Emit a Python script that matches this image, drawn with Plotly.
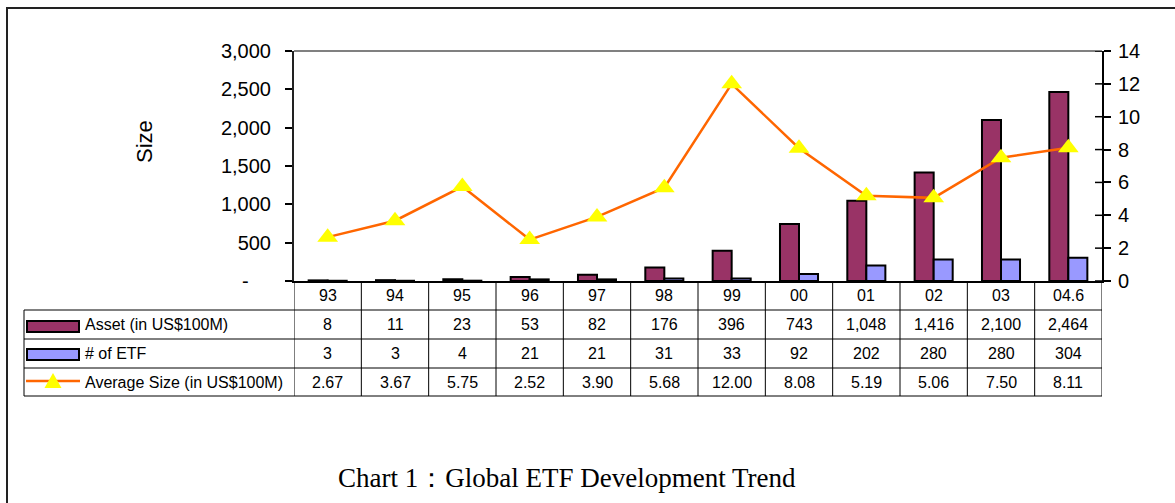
import plotly.graph_objects as go

# ---------------- data ----------------
categories = ["93", "94", "95", "96", "97", "98", "99", "00", "01", "02", "03", "04.6"]
asset = [8, 11, 23, 53, 82, 176, 396, 743, 1048, 1416, 2100, 2464]
etf_count = [3, 3, 4, 21, 21, 31, 33, 92, 202, 280, 280, 304]
avg_size = [2.67, 3.67, 5.75, 2.52, 3.90, 5.68, 12.00, 8.08, 5.19, 5.06, 7.50, 8.11]

series_names = ["Asset (in US$100M)", "# of ETF", "Average Size (in US$100M)"]
left_ticks = [0, 500, 1000, 1500, 2000, 2500, 3000]
right_ticks = [0, 2, 4, 6, 8, 10, 12, 14]
caption = "Chart 1\uff1aGlobal ETF Development Trend"

# ---------------- layout constants (pixels) ----------------
W, H = 1175, 503
L, R, T, B = 294, 1102, 51, 281
PW, PH = R - L, B - T


def px(x):
    return (x - L) / PW


def py(y):
    return (B - y) / PH


MAROON = "#993366"
LAVENDER = "#9999FF"
ORANGE = "#FF6600"
YELLOW = "#FFFF00"
FONT = "Liberation Sans, Arial, sans-serif"

idx = list(range(len(categories)))

fig = go.Figure()
fig.add_trace(go.Bar(x=idx, y=asset, name=series_names[0],
                     marker=dict(color=MAROON, line=dict(color="black", width=2))))
fig.add_trace(go.Bar(x=idx, y=etf_count, name=series_names[1],
                     marker=dict(color=LAVENDER, line=dict(color="black", width=2))))
fig.add_trace(go.Scatter(x=idx, y=avg_size, name=series_names[2], yaxis="y2",
                         mode="lines+markers", cliponaxis=False,
                         line=dict(color=ORANGE, width=2.5),
                         marker=dict(symbol="triangle-up", size=18, color=YELLOW,
                                     line=dict(width=0))))

left_text = ["-" + "\u00a0" * 4] + [f"{v:,}" for v in left_ticks[1:]]

fig.update_layout(
    width=W, height=H,
    margin=dict(l=L, r=W - R, t=T, b=H - B),
    paper_bgcolor="white", plot_bgcolor="white",
    showlegend=False,
    barmode="group", bargap=0.435, bargroupgap=0,
    font=dict(family=FONT, color="black"),
    xaxis=dict(range=[-0.5, len(categories) - 0.5],
               showticklabels=False, ticks="", showgrid=False, zeroline=False,
               showline=True, linecolor="black", linewidth=2),
    yaxis=dict(range=[0, 3000], tickvals=left_ticks, ticktext=left_text,
               ticks="outside", ticklen=7, tickcolor="black", tickwidth=1.5,
               showgrid=False, zeroline=False, showline=True, linecolor="#222",
               linewidth=2, tickfont=dict(size=20, family=FONT),
               ticklabelstandoff=10),
    yaxis2=dict(range=[0, 14], tickvals=right_ticks, overlaying="y", side="right",
                ticks="outside", ticklen=7, tickcolor="black", tickwidth=1.5,
                showgrid=False, zeroline=False, showline=True, linecolor="black",
                linewidth=2, tickfont=dict(size=20, family=FONT),
                ticklabelstandoff=3),
)

shapes = []
ann = []

# plot-area top border (gray)
shapes.append(dict(type="line", xref="paper", yref="paper", x0=0, x1=1, y0=1, y1=1,
                   line=dict(color="#808080", width=2)))

# inner half of the crossing ticks on the right axis
for v in right_ticks:
    shapes.append(dict(type="line", xref="paper", yref="y2", x0=1 - 7 / PW, x1=1,
                       y0=v, y1=v, line=dict(color="black", width=1.5)))

# outer frame
shapes.append(dict(type="rect", xref="paper", yref="paper", x0=px(7), x1=px(1185),
                   y0=py(508), y1=py(8), line=dict(color="#222", width=2)))

# ---- data table ----
row_lines = [310, 339, 368, 396]
row_centers = [324.5, 353.5, 382]
header_center = 295.5
table_left = 24
n = len(categories)

for yy in row_lines:
    shapes.append(dict(type="line", xref="paper", yref="paper", x0=px(table_left), x1=1,
                       y0=py(yy), y1=py(yy), line=dict(color="black", width=1)))
shapes.append(dict(type="line", xref="paper", yref="paper", x0=px(table_left),
                   x1=px(table_left), y0=py(row_lines[0]), y1=py(row_lines[-1]),
                   line=dict(color="black", width=1)))
for i in range(n + 1):
    shapes.append(dict(type="line", xref="x", yref="paper", x0=i - 0.5, x1=i - 0.5,
                       y0=0, y1=py(row_lines[-1]), line=dict(color="black", width=1)))

tfont = dict(size=16, family=FONT, color="black")
for i, c in enumerate(categories):
    ann.append(dict(x=i, xref="x", y=py(header_center), yref="paper", text=c,
                    showarrow=False, font=tfont, xanchor="center", yanchor="middle"))
    ann.append(dict(x=i, xref="x", y=py(row_centers[0]), yref="paper",
                    text=f"{asset[i]:,}", showarrow=False, font=tfont,
                    xanchor="center", yanchor="middle"))
    ann.append(dict(x=i, xref="x", y=py(row_centers[1]), yref="paper",
                    text=f"{etf_count[i]:,}", showarrow=False, font=tfont,
                    xanchor="center", yanchor="middle"))
    ann.append(dict(x=i, xref="x", y=py(row_centers[2]), yref="paper",
                    text=f"{avg_size[i]:.2f}", showarrow=False, font=tfont,
                    xanchor="center", yanchor="middle"))

for name, yc in zip(series_names, row_centers):
    ann.append(dict(x=px(83), xref="paper", y=py(yc), yref="paper", text=name,
                    showarrow=False, font=tfont, xanchor="left", yanchor="middle"))

# legend keys
shapes.append(dict(type="rect", xref="paper", yref="paper", x0=px(27), x1=px(79),
                   y0=py(332), y1=py(321), fillcolor=MAROON,
                   line=dict(color="black", width=2)))
shapes.append(dict(type="rect", xref="paper", yref="paper", x0=px(27), x1=px(79),
                   y0=py(360), y1=py(349), fillcolor=LAVENDER,
                   line=dict(color="black", width=2)))
shapes.append(dict(type="line", xref="paper", yref="paper", x0=px(26), x1=px(80),
                   y0=py(381), y1=py(381), line=dict(color=ORANGE, width=2.5)))
tri = f"M{px(44.5)},{py(388)} L{px(61.5)},{py(388)} L{px(53)},{py(373)} Z"
shapes.append(dict(type="path", xref="paper", yref="paper", path=tri,
                   fillcolor=YELLOW, line=dict(width=0)))

# axis title
ann.append(dict(x=px(144.5), xref="paper", y=py(141.5), yref="paper", text="Size",
                textangle=-90, showarrow=False, font=dict(size=22, family=FONT),
                xanchor="center", yanchor="middle"))

# caption
ann.append(dict(x=px(567), xref="paper", y=py(478), yref="paper", text=caption,
                showarrow=False,
                font=dict(size=27, family="Liberation Serif, Times New Roman, serif"),
                xanchor="center", yanchor="middle"))

fig.update_layout(shapes=shapes, annotations=ann)
fig.write_html("out.html",
               config={"displayModeBar": False},
               post_script="document.body.style.margin='0';"
                           "document.body.style.overflow='hidden';")
